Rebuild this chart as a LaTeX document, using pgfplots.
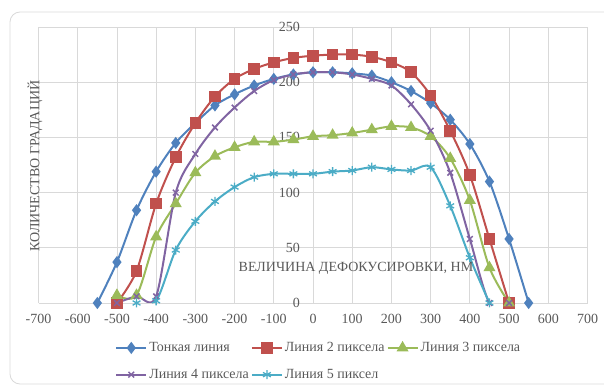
\documentclass[border=0pt]{standalone}
\usepackage{fontspec}
\setmainfont{Liberation Serif}
\usepackage{pgfplots}
\pgfplotsset{compat=1.18}
\definecolor{cblue}{HTML}{4F81BD}
\definecolor{cred}{HTML}{C0504D}
\definecolor{cgreen}{HTML}{9BBB59}
\definecolor{cpurple}{HTML}{8064A2}
\definecolor{ccyan}{HTML}{4BACC6}
\definecolor{gridgray}{HTML}{D9D9D9}
\definecolor{labelgray}{HTML}{595959}
\newcommand{\cfont}{\fontsize{14}{16}\selectfont}
\begin{document}
\begin{tikzpicture}
\useasboundingbox (0pt,0pt) rectangle (604pt,385pt);
\draw[gridgray, line width=0.8pt, rounded corners=10pt] (10pt,1pt) rectangle (650pt,373pt);
\begin{axis}[
  at={(38.5pt,82pt)}, anchor=south west,
  scale only axis, width=549pt, height=276pt,
  xmin=-700, xmax=700, ymin=0, ymax=250,
  xtick={-700,-600,...,700}, ytick={0,50,...,250},
  axis line style={draw=none},
  grid=major, major grid style={gridgray, line width=0.8pt},
  major tick length=0pt,
  tick label style={font=\cfont, text=labelgray},
  /pgf/number format/assume math mode=true,
  yticklabel style={xshift=265pt},
  xticklabel style={yshift=-8pt},
  every axis plot/.append style={line width=2pt, smooth, tension=0.5},
  legend columns=3,
  legend cell align=left,
  legend style={draw=none, fill=none, font=\cfont, text=labelgray,
    at={(axis description cs:0.134,-0.128)}, anchor=north west,
    /tikz/every even column/.append style={column sep=0pt},
    /tikz/column 4/.append style={column sep=-17pt},
    row sep=12pt},
  legend image code/.code={\draw[mark repeat=2, mark phase=2, #1] plot coordinates {(0pt,0pt) (15pt,0pt) (30pt,0pt)};},
]
\addplot[cblue, mark=diamond*, mark size=4.5pt, mark options={solid}] coordinates {
(-550,0)(-500,37)(-450,84)(-400,119)(-350,145)(-300,163)(-250,179)(-200,189)(-150,197)(-100,203)(-50,207)(0,209)(50,209)(100,208)(150,206)(200,200)(250,192)(300,181)(350,166)(400,144)(450,110)(500,58)(550,0)};
\addlegendentry{Тонкая линия}
\addplot[cred, mark=square*, mark size=4.8pt, mark options={solid}] coordinates {
(-500,0)(-450,29)(-400,90)(-350,132)(-300,163)(-250,187)(-200,203)(-150,212)(-100,218)(-50,222)(0,224)(50,225)(100,225)(150,223)(200,218)(250,209)(300,188)(350,156)(400,116)(450,58)(500,0)};
\addlegendentry{Линия 2 пиксела}
\addplot[cgreen, mark=triangle*, mark size=5pt, mark options={solid}] coordinates {
(-500,7)(-450,7)(-400,60)(-350,90)(-300,118)(-250,133)(-200,141)(-150,146)(-100,146)(-50,148)(0,151)(50,152)(100,154)(150,157)(200,160)(250,159)(300,151)(350,131)(400,93)(450,32)(500,0)};
\addlegendentry{Линия 3 пиксела}
\addplot[cpurple, mark=x, mark size=4pt, mark options={solid, line width=1.5pt}] coordinates {
(-500,0)(-450,6)(-400,6)(-350,100)(-300,135)(-250,159)(-200,177)(-150,192)(-100,202)(-50,207)(0,209)(50,209)(100,207)(150,203)(200,197)(250,180)(300,156)(350,118)(400,58)(450,0)(500,0)};
\addlegendentry{Линия 4 пиксела}
\addplot[ccyan, mark=asterisk, mark size=4.5pt, mark options={solid, line width=1.3pt}] coordinates {
(-450,0)(-400,2)(-350,48)(-300,74)(-250,92)(-200,105)(-150,114)(-100,117)(-50,117)(0,117)(50,119)(100,120)(150,123)(200,121)(250,120)(300,123)(350,88)(400,41)(450,0)};
\addlegendentry{Линия 5 пиксел}
\end{axis}
\node[font=\cfont, text=labelgray] at (356pt,117pt) {ВЕЛИЧИНА ДЕФОКУСИРОВКИ, НМ};
\node[font=\cfont, text=labelgray, rotate=90] at (35pt,219pt) {КОЛИЧЕСТВО ГРАДАЦИЙ};
\end{tikzpicture}
\end{document}
